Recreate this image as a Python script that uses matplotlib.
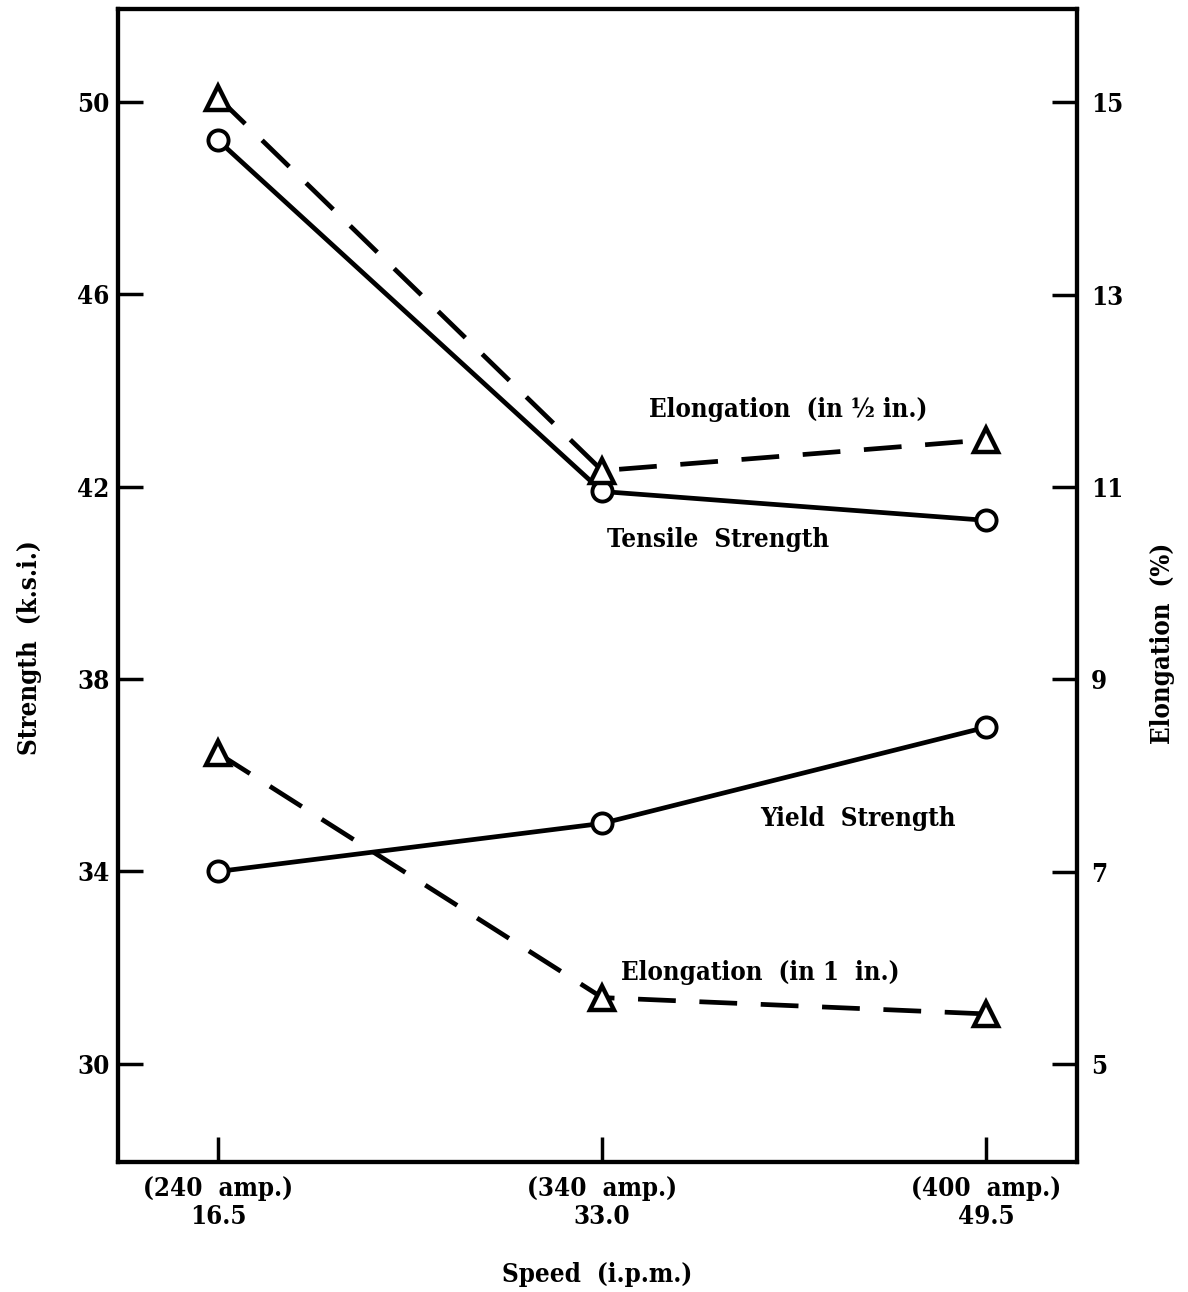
import matplotlib
matplotlib.use("Agg")
import matplotlib.pyplot as plt

speed = [16.5, 33.0, 49.5]
tick_labels = ["(240  amp.)\n16.5", "(340  amp.)\n33.0", "(400  amp.)\n49.5"]
tensile = [49.2, 41.9, 41.3]
yield_s = [34.0, 35.0, 37.0]
elong_half = [15.05, 11.17, 11.49]
elong_one = [8.23, 5.69, 5.52]
left_ticks = [30, 34, 38, 42, 46, 50]
right_ticks = [5, 7, 9, 11, 13, 15]

plt.rcParams['font.family'] = ['DejaVu Serif']
plt.rcParams['font.weight'] = 'bold'
plt.rcParams['font.stretch'] = 'condensed'
plt.rcParams['axes.labelweight'] = 'bold'

fs = 18.5
fig = plt.figure(figsize=(11.88, 12.92), dpi=100)
ax = fig.add_axes([0.0993, 0.1006, 0.8073, 0.8924])
ax2 = ax.twinx()

lw = 3.4
dash = (0, (8, 5))
ax.plot(speed, tensile, color='black', lw=lw, marker='o', ms=14.5,
        mfc='white', mec='black', mew=2.8, zorder=3)
ax.plot(speed, yield_s, color='black', lw=lw, marker='o', ms=14.5,
        mfc='white', mec='black', mew=2.8, zorder=3)
ax2.plot(speed, elong_half, color='black', lw=lw, ls=dash, marker='^',
         ms=17, mfc='white', mec='black', mew=3.2, zorder=3)
ax2.plot(speed, elong_one, color='black', lw=lw, ls=dash, marker='^',
         ms=17, mfc='white', mec='black', mew=3.2, zorder=3)

ax.set_xlim(12.2, 53.4)
ax.set_ylim(27.96, 51.93)
ax2.set_ylim(3.98, 15.97)

ax.set_xticks(speed)
ax.set_xticklabels(tick_labels, fontsize=fs, linespacing=1.15)
ax.set_yticks(left_ticks)
ax.set_yticklabels([str(t) for t in left_ticks], fontsize=fs)
ax2.set_yticks(right_ticks)
ax2.set_yticklabels([str(t) for t in right_ticks], fontsize=fs)

ax.tick_params(axis='x', direction='in', length=18, width=2.5, pad=10, top=False)
ax.tick_params(axis='y', direction='in', length=18, width=2.5, pad=6, right=False)
ax2.tick_params(axis='y', direction='in', length=18, width=2.5, pad=10)

for a in (ax, ax2):
    for s in a.spines.values():
        s.set_linewidth(3)

ax.set_xlabel("Speed  (i.p.m.)", fontsize=fs, labelpad=24)
ax.set_ylabel("Strength  (k.s.i.)", fontsize=fs)
ax2.set_ylabel("Elongation  (%)", fontsize=fs)
ax.yaxis.set_label_coords(-0.079, 0.446)
ax2.yaxis.set_label_coords(1.076, 0.45)

ax.text(35.0, 43.6, "Elongation  (in ½ in.)", fontsize=fs, ha='left', va='center')
ax.text(33.2, 40.9, "Tensile  Strength", fontsize=fs, ha='left', va='center')
ax.text(39.8, 35.1, "Yield  Strength", fontsize=fs, ha='left', va='center')
ax.text(33.8, 31.9, "Elongation  (in 1  in.)", fontsize=fs, ha='left', va='center')

fig.savefig("out.png", dpi=100)
